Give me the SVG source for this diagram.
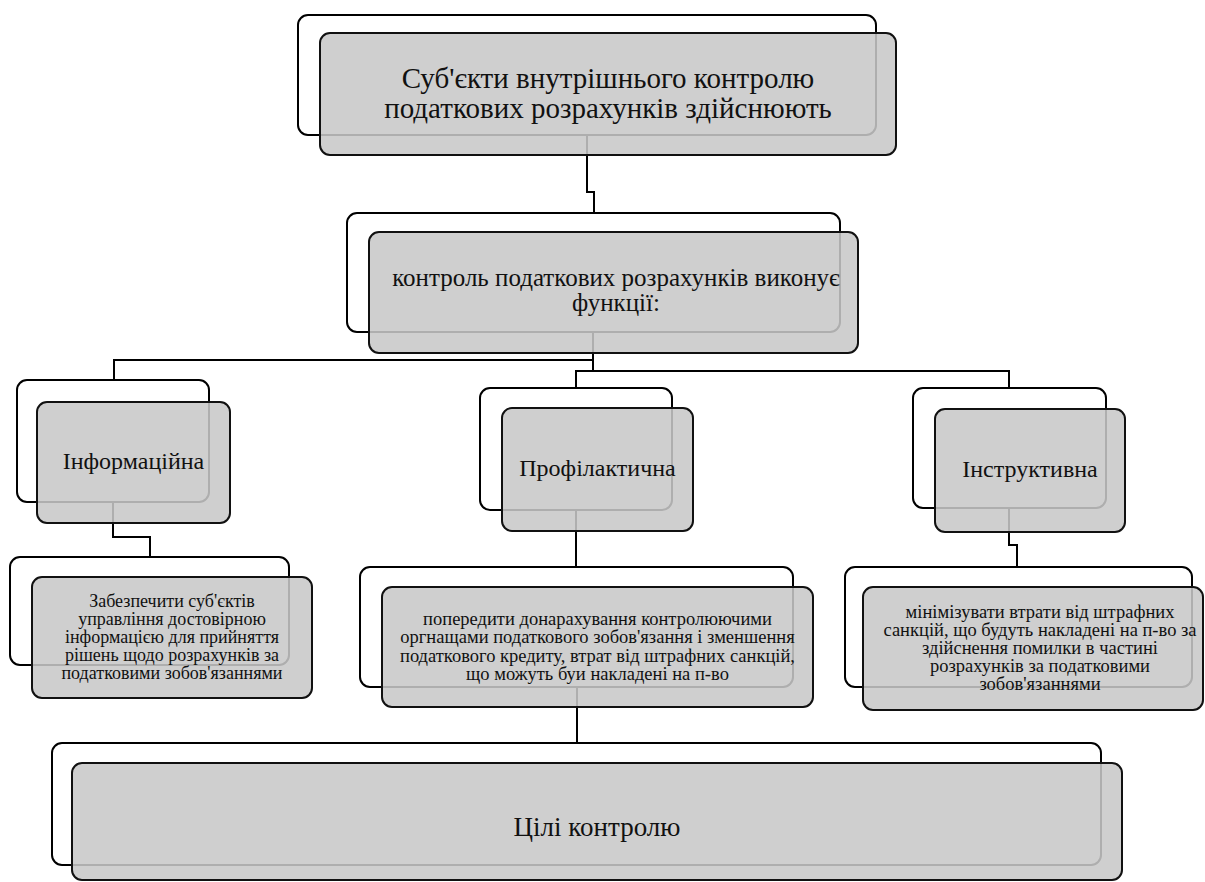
<svg xmlns="http://www.w3.org/2000/svg" width="1205" height="882" viewBox="0 0 1205 882">
<style>
.back{fill:#ffffff;stroke:#000;stroke-width:2}
.front{fill:#c8c8c8;fill-opacity:0.87;stroke:#111;stroke-width:2}
.conn{fill:none;stroke:#000;stroke-width:2}
.lbl{font-family:'Liberation Serif','DejaVu Serif','Times New Roman',serif;fill:#111;text-anchor:middle}
.t1{font-size:29px}
.t2{font-size:24px}
.t2b{font-size:25px}
.t3{font-size:18.5px}
.t3s{font-size:18px}
.t4{font-size:27px}
</style>
<rect width="1205" height="882" fill="#ffffff"/>
<g id="connectors">
<path class="conn" d="M587,135 V192 H594 V212"/>
<path class="conn" d="M593,332 V371"/>
<path class="conn" d="M114,380 V360 H593"/>
<path class="conn" d="M576,388 V371 H1009 V388"/>
<path class="conn" d="M113,502 V537 H150 V557"/>
<path class="conn" d="M576,510 V567"/>
<path class="conn" d="M1009,508 V545 H1017 V567"/>
<path class="conn" d="M577,687 V743"/>
</g>
<g font-family="Liberation Serif, DejaVu Serif, serif">
<g id="node-subjects">
<rect class="back" x="298" y="15" width="578" height="120" rx="10"/>
<rect class="front" x="320" y="33" width="576" height="122" rx="10"/>
<text class="lbl t1" x="608" y="88">Суб'єкти внутрішнього контролю</text>
<text class="lbl t1" x="608" y="118">податкових розрахунків здійснюють</text>
</g>
<g id="node-functions">
<rect class="back" x="347" y="213" width="493" height="119" rx="10"/>
<rect class="front" x="369" y="232" width="489" height="121" rx="10"/>
<text class="lbl t2b" x="616" y="286">контроль податкових розрахунків виконує</text>
<text class="lbl t2b" x="616" y="311">функції:</text>
</g>
<g id="node-informational">
<rect class="back" x="17" y="380" width="192" height="122" rx="10"/>
<rect class="front" x="37" y="402" width="193" height="121" rx="10"/>
<text class="lbl t2" x="133.5" y="469">Інформаційна</text>
</g>
<g id="node-preventive">
<rect class="back" x="480" y="388" width="192" height="122" rx="10"/>
<rect class="front" x="502" y="408" width="191" height="123" rx="10"/>
<text class="lbl t2" x="597.5" y="476">Профілактична</text>
</g>
<g id="node-instructive">
<rect class="back" x="913" y="388" width="193" height="120" rx="10"/>
<rect class="front" x="935" y="409" width="190" height="123" rx="10"/>
<text class="lbl t2" x="1030" y="477">Інструктивна</text>
</g>
<g id="node-goal-info">
<rect class="back" x="10" y="557" width="279" height="108" rx="10"/>
<rect class="front" x="32" y="577" width="280" height="121" rx="10"/>
<text class="lbl t3s" x="172" y="607">Забезпечити суб'єктів</text>
<text class="lbl t3s" x="172" y="625">управління достовірною</text>
<text class="lbl t3s" x="172" y="643">інформацією для прийняття</text>
<text class="lbl t3s" x="172" y="661">рішень щодо розрахунків за</text>
<text class="lbl t3s" x="172" y="679">податковими зобов'язаннями</text>
</g>
<g id="node-goal-prevent">
<rect class="back" x="360" y="567" width="433" height="120" rx="10"/>
<rect class="front" x="382" y="587" width="431" height="120" rx="10"/>
<text class="lbl t3" x="597.5" y="625">попередити донарахування контролюючими</text>
<text class="lbl t3" x="597.5" y="643.3">оргнащами податкового зобов'язання і зменшення</text>
<text class="lbl t3" x="597.5" y="661.6">податкового кредиту, втрат від штрафних санкцій,</text>
<text class="lbl t3" x="597.5" y="680">що можуть буи накладені на п-во</text>
</g>
<g id="node-goal-instruct">
<rect class="back" x="845" y="567" width="347" height="120" rx="10"/>
<rect class="front" x="863" y="587" width="340" height="123" rx="10"/>
<text class="lbl t3" x="1040" y="618">мінімізувати втрати від штрафних</text>
<text class="lbl t3" x="1040" y="636">санкцій, що будуть накладені на п-во за</text>
<text class="lbl t3" x="1040" y="654">здійснення помилки в частині</text>
<text class="lbl t3" x="1040" y="672">розрахунків за податковими</text>
<text class="lbl t3" x="1040" y="690">зобов'язаннями</text>
</g>
<g id="node-control-goals">
<rect class="back" x="52" y="743" width="1049" height="122" rx="10"/>
<rect class="front" x="72" y="763" width="1050" height="117" rx="10"/>
<text class="lbl t4" x="597" y="836">Цілі контролю</text>
</g>
</g>
</svg>
